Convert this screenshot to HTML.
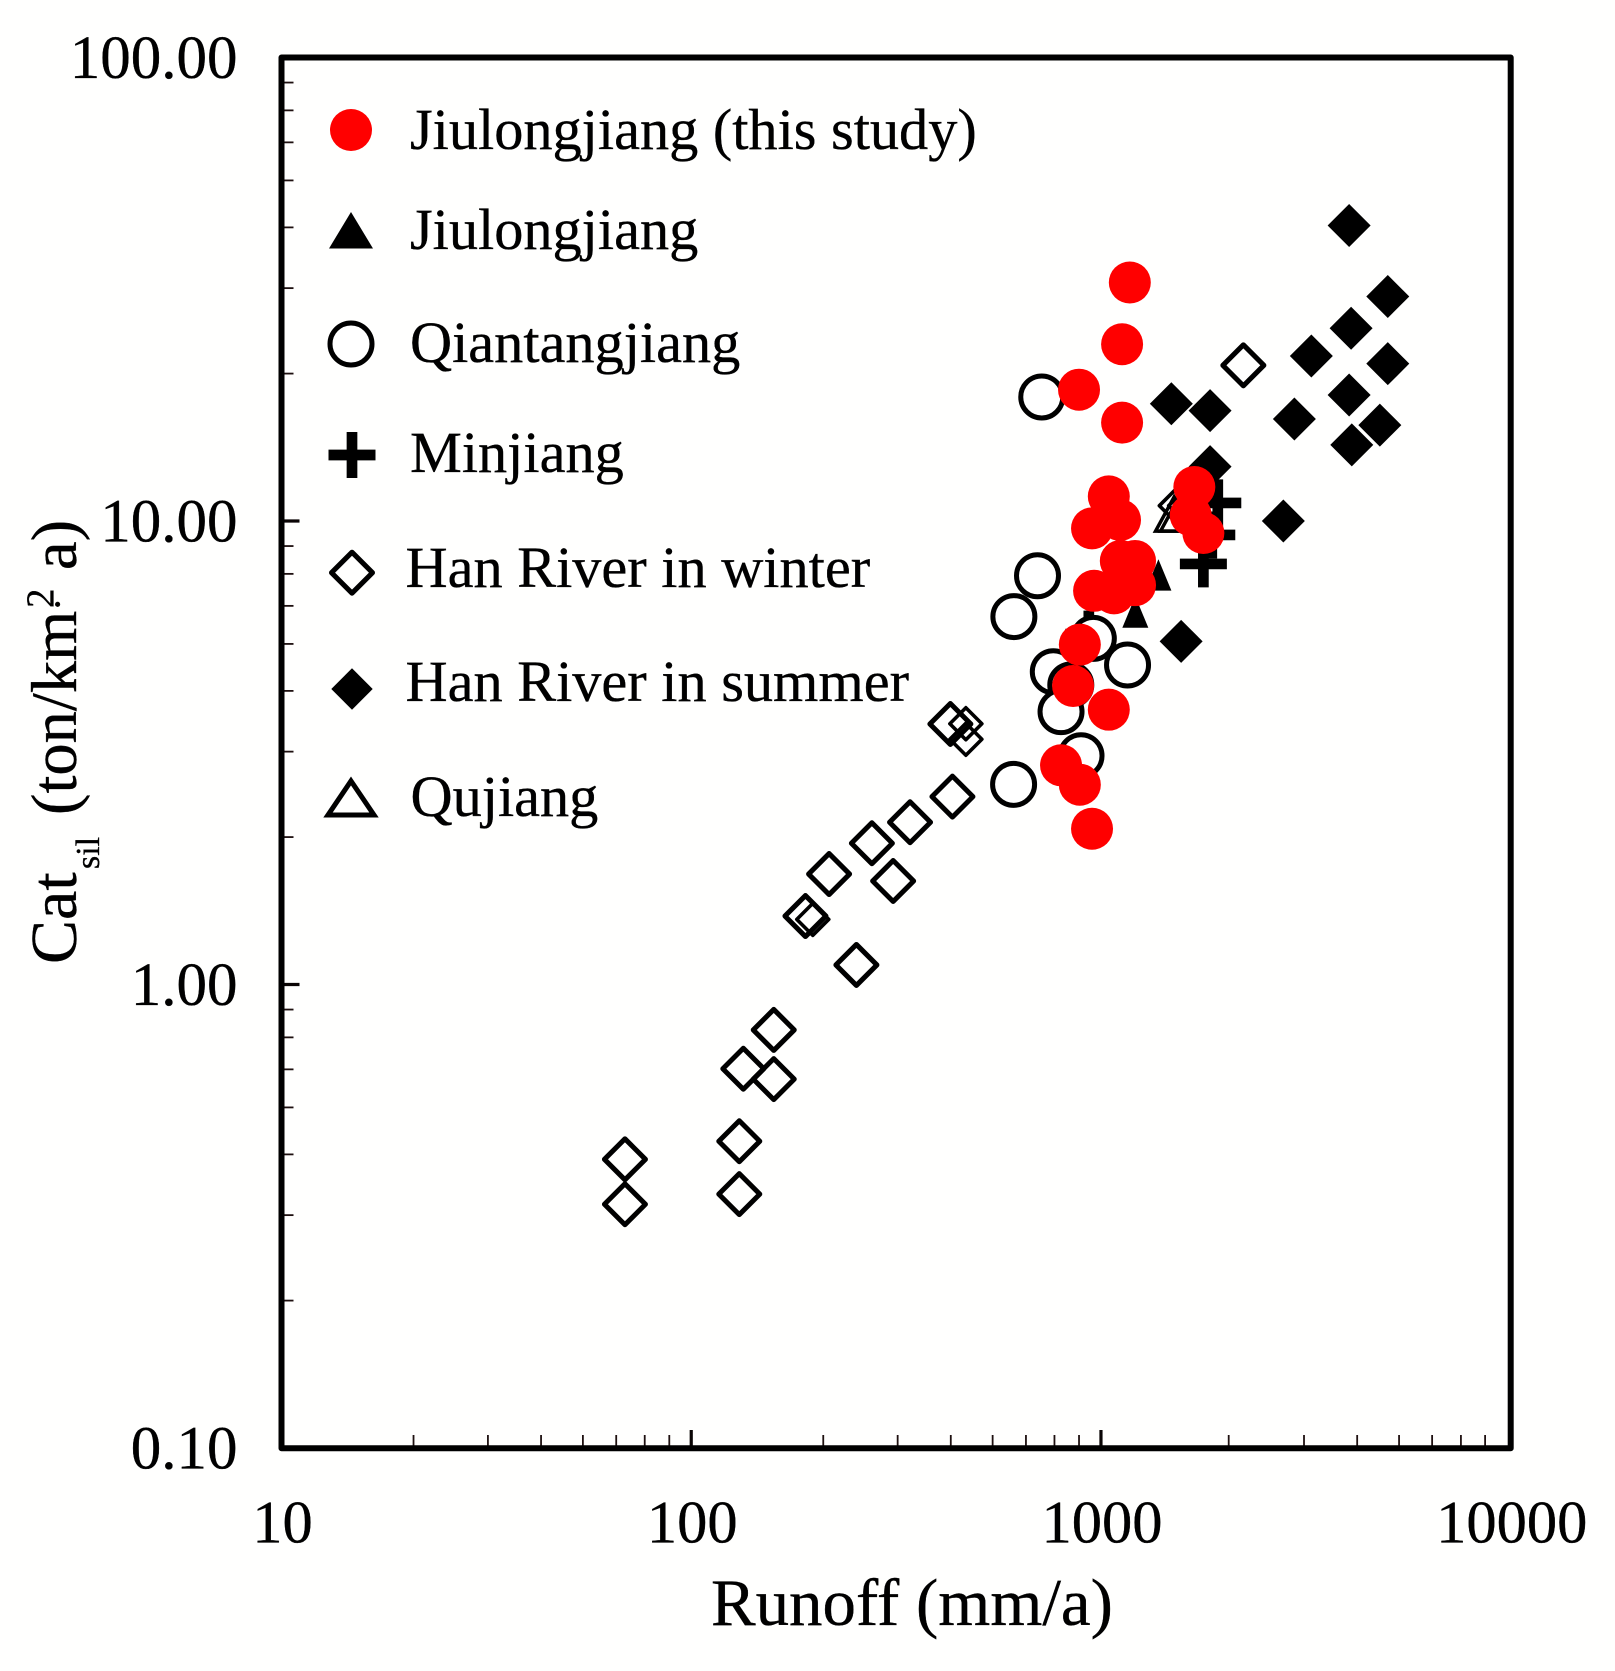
<!DOCTYPE html>
<html lang="en">
<head>
<meta charset="utf-8">
<title>Catsil vs Runoff</title>
<style>
html,body{margin:0;padding:0;background:#fff;}
svg{display:block;}
text{font-family:"Liberation Serif",serif;fill:#000;stroke:#000;stroke-width:0.35px;}
</style>
</head>
<body>
<svg id="chart" xmlns="http://www.w3.org/2000/svg" width="1615" height="1671" viewBox="0 0 1615 1671">
  <rect x="0" y="0" width="1615" height="1671" fill="#fffffe"/>
  <g id="ticks"></g>
  <g id="tick-labels"></g>
  <g id="marks"></g>
  <rect x="281.5" y="57.5" width="1229.2" height="1390.7" fill="none" stroke="#000" stroke-width="6" stroke-linejoin="round"/>

  <text x="711" y="1625" font-size="66.9">Runoff (mm/a)</text>

  <g>
    <text transform="translate(76,964) rotate(-90)" font-size="66">Cat</text>
    <text transform="translate(99,869) rotate(-90)" font-size="34">sil</text>
    <text transform="translate(76,815) rotate(-90)" font-size="64.5">(ton/km</text>
    <text transform="translate(53,608) rotate(-90)" font-size="39">2</text>
    <text transform="translate(71,611) rotate(-90)" font-size="40">·</text>
    <text transform="translate(76,570) rotate(-90)" font-size="64.5">a)</text>
  </g>

  <g>
    <g>
      <circle cx="351" cy="130" r="21" fill="#ff0000"/>
      <text x="410" y="149" font-size="58.3">Jiulongjiang (this study)</text>
    </g>
    <g>
      <polygon points="351,212 373,248.5 329,248.5" fill="#000"/>
      <text x="410" y="249" font-size="58.3">Jiulongjiang</text>
    </g>
    <g>
      <circle cx="351" cy="344" r="21" fill="#fff" stroke="#000" stroke-width="5"/>
      <text x="410" y="362" font-size="58.3">Qiantangjiang</text>
    </g>
    <g>
      <path d="M328.5 455H375.5M352 432V478" stroke="#000" stroke-width="10.7" fill="none"/>
      <text x="410" y="472" font-size="58.3">Minjiang</text>
    </g>
    <g>
      <polygon points="352,552.2 372.5,572.7 352,593.2 331.5,572.7" fill="none" stroke="#000" stroke-width="5" stroke-linejoin="round"/>
      <text x="405.5" y="587" font-size="58.3">Han River in winter</text>
    </g>
    <g>
      <polygon points="352,668.3 372.7,689 352,709.7 331.3,689" fill="#000"/>
      <text x="405.5" y="701" font-size="58.3">Han River in summer</text>
    </g>
    <g>
      <polygon points="351,781 374,815 328,815" fill="none" stroke="#000" stroke-width="5"/>
      <text x="410.5" y="816" font-size="58.3">Qujiang</text>
    </g>
  </g>
</svg>
<script>
// Axis values
const xMajorTicks = [10, 100, 1000, 10000];
const xMajorLabels = ["10", "100", "1000", "10000"];
const yMajorTicks = [100, 10, 1, 0.1];
const yMajorLabels = ["100.00", "10.00", "1.00", "0.10"];
const xMinorFactors = [2.10, 3.19, 4.30, 5.44, 6.56, 7.70, 8.84];
const xMinorFactorsLastDecade = [2.05, 3.13, 4.22, 5.34, 6.43, 7.56, 8.66];
const yMinorFactors = [2.08, 3.18, 4.30, 5.43, 6.56, 7.69, 8.83];

// Jiulongjiang (this study)
const thisStudyRunoff = [1176, 1126, 884, 1126, 1045, 1113, 951, 1118, 1211, 962, 1211, 1076, 1690, 1656, 1778, 888, 855, 1045, 799, 888, 951];
const thisStudyCat = [32.7, 24.06, 19.2, 16.3, 11.3, 10.05, 9.64, 8.20, 8.20, 7.07, 7.27, 6.98, 11.84, 10.29, 9.42, 5.41, 4.406, 3.917, 2.971, 2.698, 2.168];

// Jiulongjiang (literature)
const jiulongRunoff = [1381, 1213];
const jiulongCat = [7.65, 6.36];

// Qiantangjiang
const qiantangRunoff = [717, 700, 613, 958, 1161, 765, 844, 799, 894, 612];
const qiantangCat = [18.52, 7.62, 6.22, 5.58, 4.89, 4.73, 4.428, 3.878, 3.116, 2.703];

// Minjiang
const minjiangRunoff = [1778, 1928, 1864, 934];
const minjiangCat = [8.08, 10.94, 9.33, 5.70];

// Han River in winter
const hanWinterRunoff = [2226, 429, 434, 342, 276, 311, 217, 190, 253, 159, 134, 159, 131, 131, 68.9, 68.9];
const hanWinterCat = [21.67, 3.648, 2.543, 2.239, 2.017, 1.672, 1.731, 1.405, 1.102, 0.798, 0.658, 0.625, 0.459, 0.353, 0.4196, 0.3356];
const hanWinterSmallRunoff = [468, 468, 198, 1519, 1601];
const hanWinterSmallCat = [3.653, 3.381, 1.382, 10.79, 10.79];

// Han River in summer
const hanSummerRunoff = [4033, 5012, 4078, 3262, 5012, 4033, 1485, 1846, 2965, 4793, 4094, 1846, 2787, 1569];
const hanSummerCat = [43.4, 30.5, 26.05, 22.7, 21.85, 18.7, 17.9, 17.3, 16.6, 16.1, 14.6, 13.1, 10.0, 5.50];

// Qujiang
const qujiangRunoff = [1508, 1551];
const qujiangCat = [10.35, 10.35];

const SVGNS = "http://www.w3.org/2000/svg";
const PLOT_LEFT = 281.5, PLOT_RIGHT = 1510.7, PLOT_TOP = 57.5, PLOT_BOTTOM = 1448;
const marks = document.getElementById("marks");
const ticks = document.getElementById("ticks");
const tickLabels = document.getElementById("tick-labels");

function xScale(v) {
  return PLOT_LEFT + (Math.log10(v) - 1) / 3 * (PLOT_RIGHT - PLOT_LEFT);
}
function yScale(v) {
  return PLOT_TOP + (2 - Math.log10(v)) / 3 * (PLOT_BOTTOM - PLOT_TOP);
}
function make(tag, attrs) {
  const el = document.createElementNS(SVGNS, tag);
  Object.keys(attrs).forEach(function (k) { el.setAttribute(k, attrs[k]); });
  return el;
}

// Ticks
xMajorTicks.forEach(function (v, i) {
  const px = xScale(v);
  if (i > 0 && i < xMajorTicks.length - 1) {
    const t = make("line", { x1: px, x2: px, y1: PLOT_BOTTOM, y2: PLOT_BOTTOM - 18, stroke: "#0a0505", "stroke-width": 3.2 });
    
    
    ticks.appendChild(t);
  }
  if (i < xMajorTicks.length - 1) {
    const factors = i === xMajorTicks.length - 2 ? xMinorFactorsLastDecade : xMinorFactors;
    factors.forEach(function (f) {
      const mx = xScale(v * f);
      const m = make("line", { x1: mx, x2: mx, y1: PLOT_BOTTOM, y2: PLOT_BOTTOM - 13, stroke: "#1e1010", "stroke-width": 1.8 });
      
      
      ticks.appendChild(m);
    });
  }
  const lab = make("text", { x: px + 1, y: 1542.7, "font-size": 60.5, "text-anchor": "middle" });
  
  
  lab.textContent = xMajorLabels[i];
  tickLabels.appendChild(lab);
});
yMajorTicks.forEach(function (v, i) {
  const py = yScale(v);
  if (i > 0 && i < yMajorTicks.length - 1) {
    const t = make("line", { x1: PLOT_LEFT, x2: PLOT_LEFT + 18, y1: py, y2: py, stroke: "#0a0505", "stroke-width": 3.2 });
    
    
    ticks.appendChild(t);
  }
  if (i > 0) {
    yMinorFactors.forEach(function (f) {
      const my = yScale(v * f);
      const m = make("line", { x1: PLOT_LEFT, x2: PLOT_LEFT + 12, y1: my, y2: my, stroke: "#1e1010", "stroke-width": 1.8 });
      
      
      ticks.appendChild(m);
    });
  }
  const lab = make("text", { x: 237.5, y: py + 20.5, "font-size": 61, "text-anchor": "end" });
  
  
  lab.textContent = yMajorLabels[i];
  tickLabels.appendChild(lab);
});

// Marker painters
function diamondPoints(cx, cy, h) {
  return [cx, cy - h, cx + h, cy, cx, cy + h, cx - h, cy].join(",");
}
function drawFilledTriangles(xs, ys) {
  xs.forEach(function (v, i) {
    const cx = xScale(v), cy = yScale(ys[i]);
    const el = make("polygon", { points: [cx, cy - 15.7, cx + 13, cy + 15.7, cx - 13, cy + 15.7].join(","), fill: "#000" });
    
    
    marks.appendChild(el);
  });
}
function drawPlus(xs, ys) {
  xs.forEach(function (v, i) {
    const cx = xScale(v), cy = yScale(ys[i]);
    const el = make("path", { d: "M" + (cx - 23.5) + " " + cy + "H" + (cx + 23.5) + "M" + cx + " " + (cy - 23.5) + "V" + (cy + 23.5), stroke: "#000", "stroke-width": 10.7, fill: "none" });
    
    
    marks.appendChild(el);
  });
}
function drawFilledDiamonds(xs, ys) {
  xs.forEach(function (v, i) {
    const el = make("polygon", { points: diamondPoints(xScale(v), yScale(ys[i]), 21.5), fill: "#000" });
    
    
    marks.appendChild(el);
  });
}
function drawRings(xs, ys) {
  xs.forEach(function (v, i) {
    const el = make("circle", { cx: xScale(v), cy: yScale(ys[i]), r: 21, fill: "#fff", stroke: "#000", "stroke-width": 5 });
    
    
    marks.appendChild(el);
  });
}
function drawOpenTriangles(xs, ys) {
  xs.forEach(function (v, i) {
    const cx = xScale(v), cy = yScale(ys[i]);
    const el = make("polygon", { points: [cx, cy - 17, cx + 18.5, cy + 17, cx - 18.5, cy + 17].join(","), fill: "none", stroke: "#000", "stroke-width": 3.5 });
    
    
    marks.appendChild(el);
  });
}
function drawOpenDiamonds(xs, ys, half, width) {
  xs.forEach(function (v, i) {
    const el = make("polygon", { points: diamondPoints(xScale(v), yScale(ys[i]), half), fill: "none", stroke: "#000", "stroke-width": width, "stroke-linejoin": "round" });
    
    
    marks.appendChild(el);
  });
}
function drawRedCircles(xs, ys) {
  xs.forEach(function (v, i) {
    const el = make("circle", { cx: xScale(v), cy: yScale(ys[i]), r: 21, fill: "#ff0000" });
    
    
    marks.appendChild(el);
  });
}

drawFilledTriangles(jiulongRunoff, jiulongCat);
drawPlus(minjiangRunoff, minjiangCat);
drawFilledDiamonds(hanSummerRunoff, hanSummerCat);
drawRings(qiantangRunoff, qiantangCat);
drawOpenTriangles(qujiangRunoff, qujiangCat);
drawOpenDiamonds(hanWinterRunoff, hanWinterCat, 20.5, 5);
drawOpenDiamonds(hanWinterSmallRunoff, hanWinterSmallCat, 16, 3.6);
drawRedCircles(thisStudyRunoff, thisStudyCat);
</script>
</body>
</html>
